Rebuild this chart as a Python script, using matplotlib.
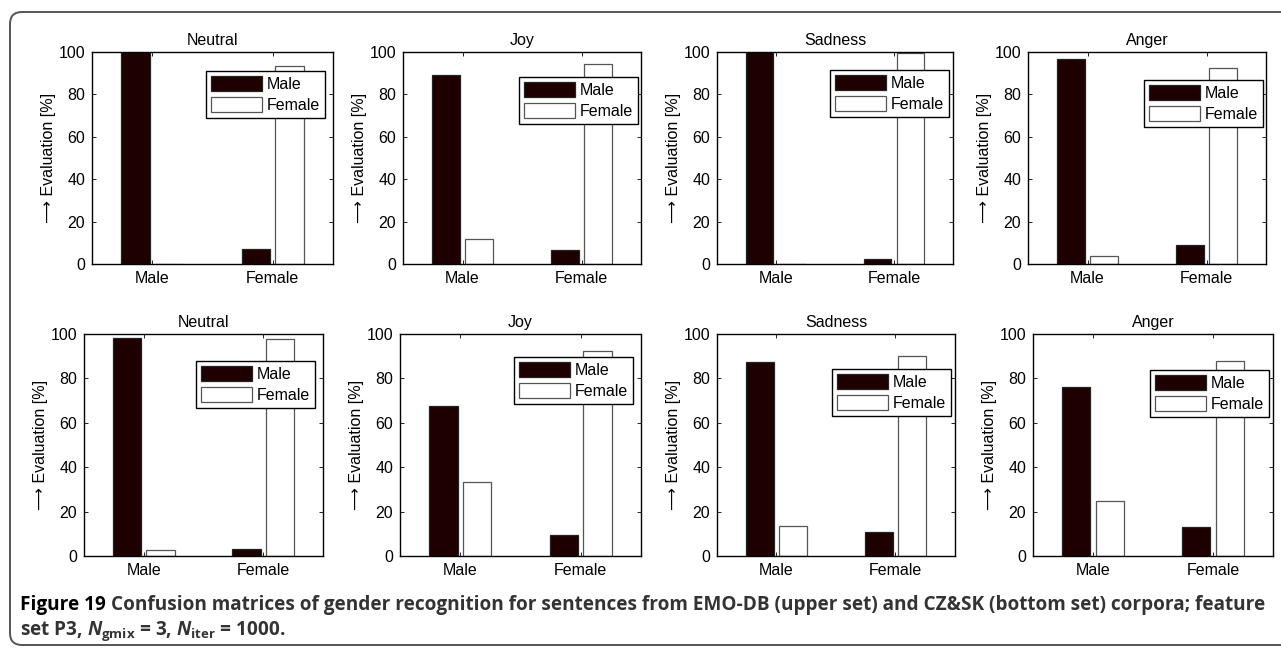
import matplotlib
matplotlib.use("Agg")
import matplotlib.pyplot as plt
from matplotlib.patches import FancyBboxPatch
import numpy as np

plt.rcParams["font.family"] = ["Liberation Sans", "DejaVu Sans"]
plt.rcParams["mathtext.fontset"] = "custom"
plt.rcParams["mathtext.rm"] = "Open Sans:bold"
plt.rcParams["mathtext.bf"] = "Open Sans:bold"
plt.rcParams["mathtext.it"] = "Open Sans:italic:bold"

# recognised-as percentages; x groups are the true speaker gender
groups   = ["Male", "Female"]
emotions = ["Neutral", "Joy", "Sadness", "Anger"]

# EMO-DB (upper set)
emo_male   = [[100.0, 7.0], [89.1, 6.5], [100.0, 2.5], [96.7, 8.8]]
emo_female = [[0.0, 93.5], [11.7, 94.3], [0.0, 99.5], [3.9, 92.4]]
# CZ&SK (bottom set)
czsk_male   = [[98.2, 3.0], [67.6, 9.5], [87.4, 10.8], [76.1, 13.1]]
czsk_female = [[2.6, 97.6], [33.2, 92.3], [13.5, 89.9], [24.6, 87.7]]

W, H = 1281, 648
DARK = "#1f0000"
FS = 11.5

# axes boxes in pixels: (left, top, right, bottom)
top_boxes = [(92, 52, 333, 264), (403, 52, 641, 264),
             (717, 52, 953, 264), (1028, 52, 1266, 264)]
bot_boxes = [(84, 334, 323, 556), (400, 334, 641, 556),
             (717, 334, 955, 556), (1033, 334, 1273, 556)]
# legend upper-right corners in pixels
top_leg = [(325, 71), (638, 77), (949, 70), (1263, 80)]
bot_leg = [(315, 361), (633, 357), (951, 369), (1269, 370)]

fig = plt.figure(figsize=(W / 100, H / 100), dpi=100)
fig.patch.set_facecolor("white")

frame = FancyBboxPatch((0.10, 0.03), 13.0, 6.33,
                       boxstyle="round,pad=0,rounding_size=0.12",
                       transform=fig.dpi_scale_trans, facecolor="none",
                       edgecolor="#555555", linewidth=1.4, zorder=-1)
fig.patches.append(frame)

x = np.arange(1, len(groups) + 1)
off, bw = 0.14, 0.235


def panel(box, leg_corner, title, male_vals, female_vals):
    l, t, r, b = box
    ax = fig.add_axes([l / W, 1 - b / H, (r - l) / W, (b - t) / H])
    ax.bar(x - off, male_vals, width=bw, color=DARK, edgecolor="#222222",
           linewidth=0.9, label="Male", zorder=2)
    ax.bar(x + off, female_vals, width=bw, color="white", edgecolor="#555555",
           linewidth=0.9, label="Female", zorder=2)
    ax.set_xlim(0.5, 2.5)
    ax.set_ylim(0, 100)
    ax.set_xticks(x)
    ax.set_xticklabels(groups)
    ax.set_yticks(np.arange(0, 101, 20))
    ax.tick_params(direction="in", length=3, width=0.6, top=True, right=True,
                   labelsize=FS, pad=5, colors="black")
    for s in ax.spines.values():
        s.set_linewidth(1.0)
        s.set_color("black")
    ax.set_title(title, fontsize=FS, pad=5)
    ax.set_ylabel("\u27f6 Evaluation [%]", fontsize=FS, labelpad=2)
    lx, ly = leg_corner
    leg = ax.legend(loc="upper right", bbox_to_anchor=(lx / W, 1 - ly / H),
                    bbox_transform=fig.transFigure, borderaxespad=0,
                    fancybox=False, framealpha=1, edgecolor="black",
                    fontsize=FS, handlelength=3.2, handleheight=1.1,
                    handletextpad=0.3, borderpad=0.3, labelspacing=0.3)
    leg.get_frame().set_linewidth(1.0)
    return ax


for i, emo in enumerate(emotions):
    panel(top_boxes[i], top_leg[i], emo, emo_male[i], emo_female[i])
    panel(bot_boxes[i], bot_leg[i], emo, czsk_male[i], czsk_female[i])

# caption
cap_kw = dict(fontsize=13.65, fontweight="bold", family=["Open Sans", "DejaVu Sans"])
t1 = fig.text(20 / W, 1 - 610 / H, "Figure 19", color="black", va="baseline", **cap_kw)
fig.canvas.draw()
ext = t1.get_window_extent()
fig.text(ext.x1 / W + 5 / W, 1 - 610 / H,
         "Confusion matrices of gender recognition for sentences from EMO-DB "
         "(upper set) and CZ&SK (bottom set) corpora; feature",
         color="#333333", va="baseline", **cap_kw)
fig.text(20 / W, 1 - 635 / H,
         r"set P3, $N_{\mathrm{gmix}}$ = 3, $N_{\mathrm{iter}}$ = 1000.",
         color="#333333", va="baseline", **cap_kw)

fig.savefig("out.png", dpi=100, facecolor="white")
